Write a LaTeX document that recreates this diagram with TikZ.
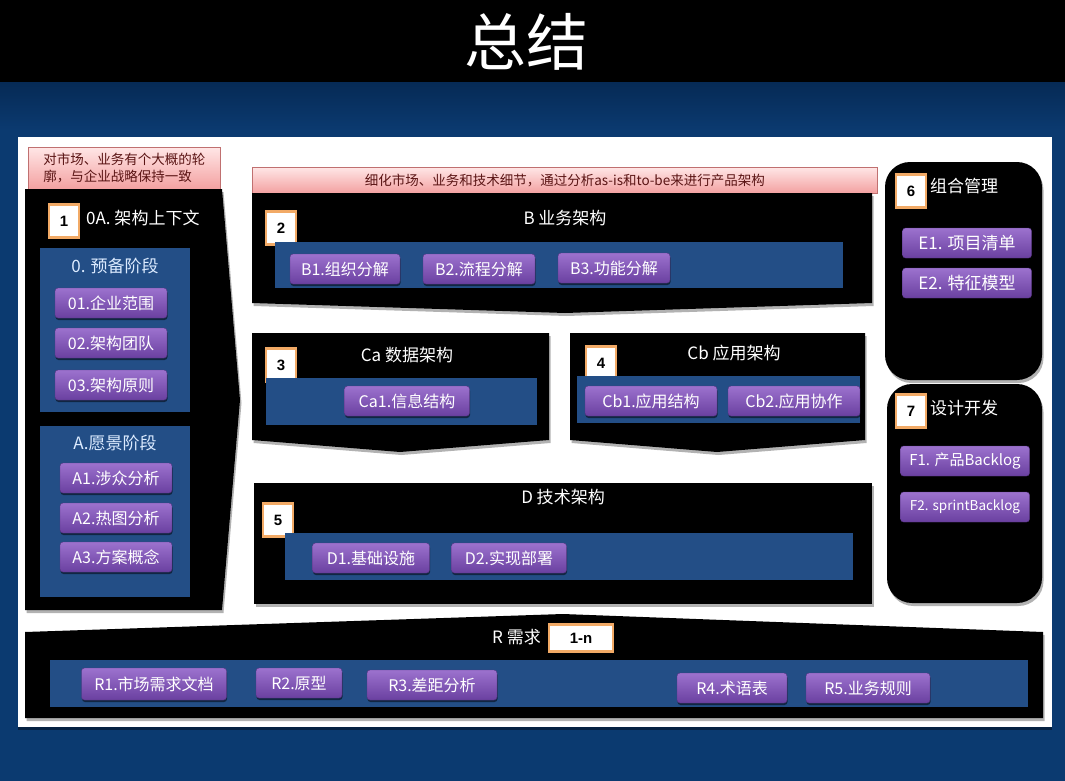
\documentclass[tikz,border=0pt]{standalone}
\usepackage{fontspec}
\usetikzlibrary{shadows}
\setmainfont{Noto Sans CJK SC}
\newfontfamily\badgefont{Liberation Sans}
\definecolor{navy}{HTML}{0B3A70}
\definecolor{navydark}{HTML}{062A55}
\definecolor{barblue}{HTML}{234E86}
\definecolor{pinktop}{HTML}{FFE6E6}
\definecolor{pinkbot}{HTML}{F3A0A0}
\definecolor{pinkline}{HTML}{C07070}
\definecolor{pinktext}{HTML}{5A1414}
\definecolor{purtop}{HTML}{9C72CE}
\definecolor{purbot}{HTML}{6A40A0}
\definecolor{badgeline}{HTML}{F2AA66}
\definecolor{lightblue}{HTML}{DCEBFF}
\tikzset{
  blk/.style={fill=black, drop shadow={shadow xshift=1.5pt, shadow yshift=-3pt, fill=black, opacity=0.3}},
  bar/.style={fill=barblue, draw=none},
  btn/.style={rounded corners=3pt, top color=purtop, bottom color=purbot, draw=purbot!80!black,
     text=white, font=\fontsize{16}{16}\selectfont, inner sep=0pt, minimum height=30,
     drop shadow={shadow xshift=0.5pt, shadow yshift=-2pt, fill=black, opacity=0.5}},
  badge/.style={fill=white, draw=badgeline, line width=2.5pt, minimum width=30, minimum height=33,
     inner sep=0pt, font=\badgefont\bfseries\fontsize{15}{15}\selectfont, text=black},
  pinkbox/.style={top color=pinktop, bottom color=pinkbot, draw=pinkline, line width=0.6pt,
     text=pinktext, inner sep=2pt},
  ttl/.style={text=white, font=\fontsize{17}{17}\selectfont, inner sep=0pt},
  subttl/.style={text=lightblue, font=\fontsize{17}{17}\selectfont, inner sep=0pt},
}
\begin{document}
\begin{tikzpicture}[x=1pt,y=-1pt]
\useasboundingbox (0,0) rectangle (1065,781);
% background
\fill[navy] (0,0) rectangle (1065,781);
\shade[top color=navydark, bottom color=navy] (0,82) rectangle (1065,130);
\fill[black] (0,0) rectangle (1065,82);
\node[text=white, font=\fontsize{62}{62}\selectfont, inner sep=0pt] (title) at (526,42) {总结};
% white panel
\fill[white, drop shadow={shadow xshift=0pt, shadow yshift=-3pt, fill=black, opacity=0.4}] (18,137) rectangle (1052,727);

% ---- block 1
\node[pinkbox, minimum width=192, minimum height=42, anchor=north west, align=left,
      font=\fontsize{13.5}{17}\selectfont] (p1) at (28,147) {对市场、业务有个大概的轮\\廓，与企业战略保持一致};
\fill[blk] (25,189) -- (222,189) -- (240,400) -- (222,610) -- (25,610) -- cycle;
\node[badge] (n1) at (64,221) {1};
\node[ttl, anchor=west] (t1) at (86,218) {0A. 架构上下文};
\fill[bar] (40,248) rectangle (190,412);
\node[subttl] (t0) at (115,266) {0. 预备阶段};
\node[btn, minimum width=112] (o1) at (111,303) {01.企业范围};
\node[btn, minimum width=112] (o2) at (111,343) {02.架构团队};
\node[btn, minimum width=112] (o3) at (111,385) {03.架构原则};
\fill[bar] (40,426) rectangle (190,597);
\node[subttl] (tA) at (115,443) {A.愿景阶段};
\node[btn, minimum width=112] (a1) at (116,478) {A1.涉众分析};
\node[btn, minimum width=112] (a2) at (116,518) {A2.热图分析};
\node[btn, minimum width=112] (a3) at (116,557) {A3.方案概念};

% ---- block 2 (B)
\node[pinkbox, minimum width=625, minimum height=26, anchor=north west,
      font=\fontsize{13.5}{13.5}\selectfont] (p2) at (252,167) {细化市场、业务和技术细节，通过分析as-is和to-be来进行产品架构};
\fill[blk] (252,193) -- (872,193) -- (872,303) -- (565,313) -- (252,303) -- cycle;
\node[badge] (n2) at (281,228) {2};
\node[ttl] (tB) at (565,218) {B 业务架构};
\fill[bar] (275,242) rectangle (843,288);
\node[btn, minimum width=110] (b1) at (345,269) {B1.组织分解};
\node[btn, minimum width=112] (b2) at (479,269) {B2.流程分解};
\node[btn, minimum width=112] (b3) at (614,268) {B3.功能分解};

% ---- block 3 (Ca)
\fill[blk] (252,333) -- (549,333) -- (549,440) -- (400,452) -- (252,440) -- cycle;
\node[badge] (n3) at (281,365) {3};
\node[ttl] (tCa) at (407,355) {Ca 数据架构};
\fill[bar] (266,378) rectangle (537,425);
\node[btn, minimum width=125] (ca1) at (407,401) {Ca1.信息结构};

% ---- block 4 (Cb)
\fill[blk] (570,333) -- (865,333) -- (865,440) -- (717,452) -- (570,440) -- cycle;
\node[badge] (n4) at (601,363) {4};
\node[ttl] (tCb) at (734,353) {Cb 应用架构};
\fill[bar] (577,376) rectangle (860,423);
\node[btn, minimum width=132] (cb1) at (651,401) {Cb1.应用结构};
\node[btn, minimum width=132] (cb2) at (794,401) {Cb2.应用协作};

% ---- block 5 (D)
\fill[blk] (254,483) rectangle (872,604);
\node[badge] (n5) at (278,520) {5};
\node[ttl] (tD) at (563,497) {D 技术架构};
\fill[bar] (285,533) rectangle (853,580);
\node[btn, minimum width=117] (d1) at (371,558) {D1.基础设施};
\node[btn, minimum width=115] (d2) at (509,558) {D2.实现部署};

% ---- R block
\fill[blk] (25,632) -- (563,614) -- (1043,632) -- (1043,718) -- (25,718) -- cycle;
\node[ttl, anchor=east] (tR) at (541,637) {R 需求};
\node[badge, minimum width=64, minimum height=27] (nR) at (581,638) {1-n};
\fill[bar] (50,660) rectangle (1028,707);
\node[btn, minimum width=145, minimum height=32] (r1) at (154,684) {R1.市场需求文档};
\node[btn, minimum width=86] (r2) at (299,683) {R2.原型};
\node[btn, minimum width=130] (r3) at (432,685) {R3.差距分析};
\node[btn, minimum width=110] (r4) at (732,688) {R4.术语表};
\node[btn, minimum width=124] (r5) at (868,688) {R5.业务规则};

% ---- E block (6)
\fill[blk, rounded corners=25pt] (885,162) rectangle (1042,380);
\node[badge] (n6) at (911,191) {6};
\node[ttl, anchor=west] (tE) at (930,186) {组合管理};
\node[btn, minimum width=129, font=\fontsize{17}{17}\selectfont] (e1) at (967,243) {E1. 项目清单};
\node[btn, minimum width=129, font=\fontsize{17}{17}\selectfont] (e2) at (967,283) {E2. 特征模型};

% ---- F block (7)
\fill[blk, rounded corners=25pt] (887,384) rectangle (1042,603);
\node[badge] (n7) at (911,411) {7};
\node[ttl, anchor=west] (tF) at (930,408) {设计开发};
\node[btn, minimum width=129, font=\fontsize{15}{15}\selectfont] (f1) at (965,461) {F1. 产品Backlog};
\node[btn, minimum width=129, font=\fontsize{13.5}{13.5}\selectfont] (f2) at (965,507) {F2. sprintBacklog};
\end{tikzpicture}
\end{document}
